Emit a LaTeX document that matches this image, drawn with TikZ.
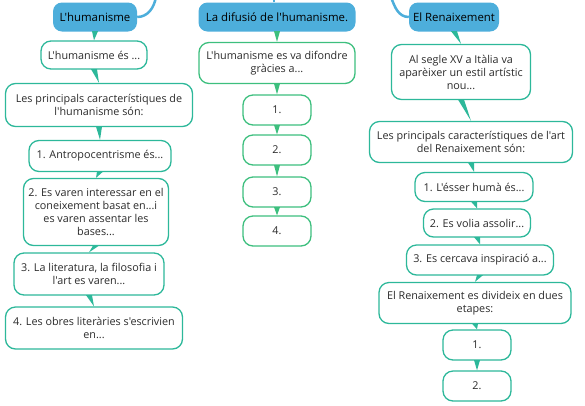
\documentclass[tikz,border=0pt]{standalone}
\usepackage{fontspec}
\setmainfont{Open Sans}[Ligatures=TeXOff]
\usetikzlibrary{calc}

\definecolor{topicblue}{HTML}{4DAEDB}
\definecolor{tealline}{HTML}{2DB89A}
\definecolor{greenline}{HTML}{3DBF7E}
\definecolor{textgray}{HTML}{2B2B2B}

% tapered link: wide at the parent, thin at the child
\newcommand{\taper}[3]{\fill[#1] ($(#2.south)+(-3,0.5)$) -- ($(#2.south)+(3,0.5)$) -- (#3.north) -- cycle;}

\begin{document}
\begin{tikzpicture}[x=1pt, y=1pt, font=\fontsize{10.8}{13}\selectfont,
    topic/.style={rectangle, rounded corners=9pt, fill=topicblue, text=black, font=\fontsize{11.4}{13}\selectfont, minimum height=29, inner xsep=4pt},
    idea/.style={rectangle, rounded corners=10pt, draw=tealline, line width=1.3pt, fill=white, text=textgray, align=center, inner xsep=4pt, inner ysep=2pt},
    idea2/.style={idea, draw=greenline},
    num/.style={minimum width=68, minimum height=30},
    blueline/.style={draw=topicblue, line width=2.5pt}]
    \useasboundingbox (0,0) rectangle (585,-405);

    % L'humanisme
    \node[topic, minimum width=84] (hum) at (95,-17) {L'humanisme};
    \node[idea, minimum width=106, minimum height=28] (hum1) at (94,-55) {L'humanisme és ...};
    \node[idea, minimum width=187, minimum height=43] (hum2) at (99,-105) {Les principals característiques de\\l'humanisme són:};
    \node[idea, minimum width=142, minimum height=31] (hum3) at (100,-156) {1. Antropocentrisme és...};
    \node[idea, minimum width=145, minimum height=67] (hum4) at (96,-212) {2. Es varen interessar en el\\coneixement basat en...i\\es varen assentar les\\bases...};
    \node[idea, minimum width=150, minimum height=42] (hum5) at (89,-274) {3. La literatura, la filosofia i\\l'art es varen...};
    \node[idea, minimum width=177, minimum height=42] (hum6) at (94,-328) {4. Les obres literàries s'escrivien\\en...};

    % La difusio
    \node[topic, minimum width=157] (dif) at (277,-17) {La difusió de l'humanisme.};
    \node[idea2, minimum width=156, minimum height=41] (dif1) at (277,-63) {L'humanisme es va difondre\\gràcies a...};
    \node[idea2, num] (dif2) at (277,-110) {1.};
    \node[idea2, num] (dif3) at (277,-150) {2.};
    \node[idea2, num] (dif4) at (277,-192) {3.};
    \node[idea2, num] (dif5) at (277,-231) {4.};

    % El Renaixement
    \node[topic, minimum width=89] (ren) at (454,-17) {El Renaixement};
    \node[idea, minimum width=139, minimum height=55] (ren1) at (461,-72) {Al segle XV a Itàlia va\\aparèixer un estil artístic\\nou...};
    \node[idea, minimum width=203, minimum height=41] (ren2) at (471,-142) {Les principals característiques de l'art\\del Renaixement són:};
    \node[idea, minimum width=118, minimum height=29] (ren3) at (474,-187) {1. L'ésser humà és...};
    \node[idea, minimum width=107, minimum height=28] (ren4) at (477,-223) {2. Es volia assolir...};
    \node[idea, minimum width=147, minimum height=30] (ren5) at (480,-260) {3. Es cercava inspiració a...};
    \node[idea, minimum width=192, minimum height=41] (ren6) at (475,-303) {El Renaixement es divideix en dues\\etapes:};
    \node[idea, num] (ren7) at (477,-345) {1.};
    \node[idea, num] (ren8) at (477,-386) {2.};

    % links to the centre (off the page)
    \coordinate (up1) at (156,3);
    \coordinate (up2) at (274,3);
    \coordinate (up3) at (391,3);
    \draw[blueline] (hum.east) to[out=0, in=-100] (up1);
    \draw[blueline] (dif.north -| up2) -- (up2);
    \draw[blueline] (ren.west) to[out=180, in=-70] (up3);

    \taper{tealline}{hum}{hum1}
    \taper{tealline}{hum1}{hum2}
    \taper{tealline}{hum2}{hum3}
    \taper{tealline}{hum3}{hum4}
    \taper{tealline}{hum4}{hum5}
    \taper{tealline}{hum5}{hum6}

    \taper{greenline}{dif}{dif1}
    \taper{greenline}{dif1}{dif2}
    \taper{greenline}{dif2}{dif3}
    \taper{greenline}{dif3}{dif4}
    \taper{greenline}{dif4}{dif5}

    \taper{tealline}{ren}{ren1}
    \taper{tealline}{ren1}{ren2}
    \taper{tealline}{ren2}{ren3}
    \taper{tealline}{ren3}{ren4}
    \taper{tealline}{ren4}{ren5}
    \taper{tealline}{ren5}{ren6}
    \taper{tealline}{ren6}{ren7}
    \taper{tealline}{ren7}{ren8}
\end{tikzpicture}
\end{document}
